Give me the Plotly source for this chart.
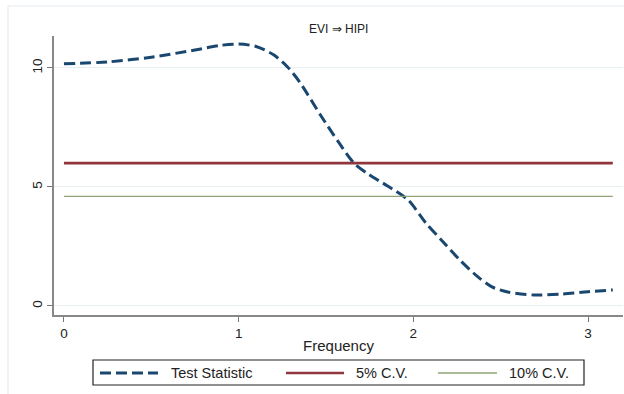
import plotly.graph_objects as go

# Test statistic, by frequency.
freq = [0.0, 0.25, 0.5, 0.75, 0.9, 1.0, 1.1, 1.2, 1.28, 1.35, 1.47, 1.57, 1.66, 1.75,
        1.85, 1.97, 2.07, 2.16, 2.27, 2.37, 2.45, 2.54, 2.69, 2.85, 3.0, 3.1416]
stat = [10.17, 10.25, 10.45, 10.75, 10.95, 11.0, 10.9, 10.55, 10.04, 9.4, 8.0, 6.9, 6.0, 5.5,
        5.05, 4.45, 3.5, 2.77, 1.9, 1.22, 0.8, 0.59, 0.46, 0.5, 0.6, 0.67]

cv5 = 6.0
cv10 = 4.6
title_text = "EVI ⇒ HIPI"
legend_names = ["Test Statistic", "5% C.V.", "10% C.V."]

NAVY = "#1a476f"
MAROON = "#90353b"
GREEN = "#8fa376"
FONT = "Liberation Sans, Arial, sans-serif"

fig = go.Figure()

fig.add_trace(go.Scatter(
    x=freq, y=stat, mode="lines", name=legend_names[0],
    line=dict(color=NAVY, width=3, dash="11px,5px", shape="spline", smoothing=0.8),
    showlegend=False,
))
fig.add_trace(go.Scatter(
    x=[freq[0], freq[-1]], y=[cv5, cv5], mode="lines", name=legend_names[1],
    line=dict(color=MAROON, width=2.6), showlegend=False,
))
fig.add_trace(go.Scatter(
    x=[freq[0], freq[-1]], y=[cv10, cv10], mode="lines", name=legend_names[2],
    line=dict(color=GREEN, width=1.3), showlegend=False,
))

# Plot area spans px 54..623 horizontally and 36..315 vertically.
W, H = 569.0, 279.0


def px(x):
    return (x - 54) / W


def py(y):
    return (315 - y) / H


shapes = [
    # outer graph-region frame
    dict(type="rect", xref="paper", yref="paper", x0=px(8), x1=px(640), y0=py(410), y1=py(6),
         line=dict(color="#e3ebef", width=1.2), layer="below"),
    # legend box
    dict(type="rect", xref="paper", yref="paper", x0=px(93), x1=px(584), y0=py(385), y1=py(360),
         line=dict(color="#222222", width=1.2), fillcolor="white"),
    # legend keys
    dict(type="line", xref="paper", yref="paper", x0=px(100), x1=px(158), y0=py(373), y1=py(373),
         line=dict(color=NAVY, width=3, dash="11px,5px")),
    dict(type="line", xref="paper", yref="paper", x0=px(286), x1=px(344), y0=py(373), y1=py(373),
         line=dict(color=MAROON, width=2.6)),
    dict(type="line", xref="paper", yref="paper", x0=px(438), x1=px(497), y0=py(373), y1=py(373),
         line=dict(color=GREEN, width=1.3)),
]

leg_font = dict(size=14.5, color="#222")
annotations = [
    dict(text=legend_names[0], x=px(169), y=py(373), xref="paper", yref="paper",
         xanchor="left", yanchor="middle", showarrow=False, font=leg_font),
    dict(text=legend_names[1], x=px(354), y=py(373), xref="paper", yref="paper",
         xanchor="left", yanchor="middle", showarrow=False, font=leg_font),
    dict(text=legend_names[2], x=px(507), y=py(373), xref="paper", yref="paper",
         xanchor="left", yanchor="middle", showarrow=False, font=leg_font),
    dict(text=title_text, x=px(338), y=py(29), xref="paper", yref="paper",
         xanchor="center", yanchor="middle", showarrow=False, font=dict(size=12, color="#222")),
]

fig.update_layout(
    width=624, height=394,
    margin=dict(l=54, r=1, t=36, b=79),
    paper_bgcolor="white", plot_bgcolor="white",
    font=dict(family=FONT, color="#222", size=13),
    showlegend=False,
    shapes=shapes,
    annotations=annotations,
)
fig.update_xaxes(
    range=[-0.057, 3.2], tickvals=[0, 1, 2, 3], ticks="outside", ticklen=5,
    tickcolor="#777", showline=True, linecolor="#888", linewidth=1.5,
    showgrid=False, zeroline=False,
    title=dict(text="Frequency", standoff=1, font=dict(size=15)),
    tickfont=dict(size=13.5),
)
fig.update_yaxes(
    range=[-0.38, 11.34], tickvals=[0, 5, 10], ticks="outside", ticklen=5,
    tickcolor="#777", showline=True, linecolor="#888", linewidth=1.5,
    showgrid=True, gridcolor="#e6eff2", gridwidth=1, zeroline=False,
    tickangle=-90, tickfont=dict(size=13.5),
)

fig.write_html("out.html", config={"displayModeBar": False},
               post_script="document.body.style.margin='0';")
